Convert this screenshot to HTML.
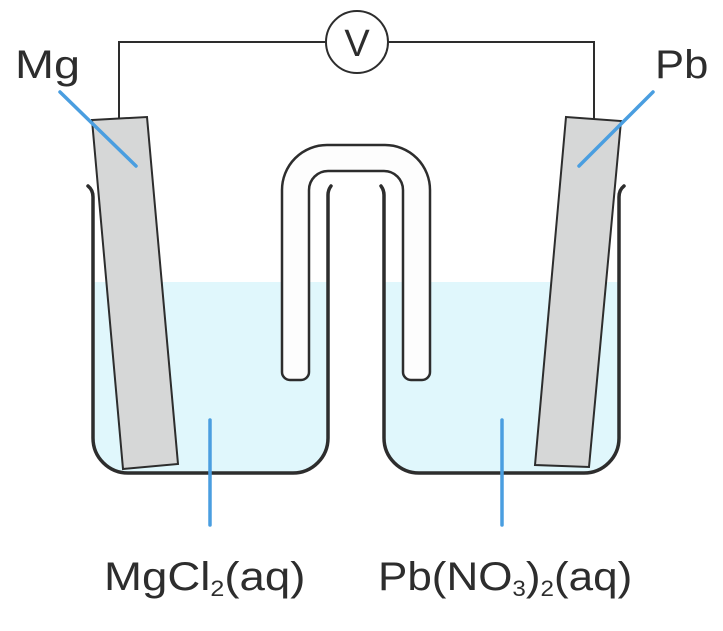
<!DOCTYPE html>
<html><head><style>body{margin:0;background:#fff}svg{display:block}</style></head><body>
<svg width="723" height="631" viewBox="0 0 723 631" xmlns="http://www.w3.org/2000/svg" font-family="Liberation Sans, sans-serif">
<rect width="723" height="631" fill="#fff"/>
<path d="M93,282 H328 V438 a35,35 0 0 1 -35,35 H128 a35,35 0 0 1 -35,-35 Z" fill="#e0f7fc"/>
<path d="M384,282 H619 V438 a35,35 0 0 1 -35,35 H419 a35,35 0 0 1 -35,-35 Z" fill="#e0f7fc"/>
<g fill="none" stroke="#2d2d2d" stroke-width="3.5" stroke-linecap="round">
<path d="M88,186 Q93,190 93,197 V438 a35,35 0 0 0 35,35 H293 a35,35 0 0 0 35,-35 V195 Q328,190 331,186"/>
<path d="M381,186 Q384,190 384,195 V438 a35,35 0 0 0 35,35 H584 a35,35 0 0 0 35,-35 V197 Q619,190 624,186"/>
</g>
<path d="M282,372 V190 a45,45 0 0 1 45,-45 H385 a45,45 0 0 1 45,45 V372 a8,8 0 0 1 -8,8 H411 a8,8 0 0 1 -8,-8 V190 a19,19 0 0 0 -19,-19 H328 a19,19 0 0 0 -19,19 V372 a8,8 0 0 1 -8,8 H290 a8,8 0 0 1 -8,-8 Z" fill="#fdfdfd" stroke="#2d2d2d" stroke-width="2.5"/>
<path d="M119,119 V42 H326 M388,42 H594 V119" fill="none" stroke="#2d2d2d" stroke-width="2"/>
<circle cx="357" cy="42" r="31" fill="#fff" stroke="#2d2d2d" stroke-width="2"/>
<text x="357" y="56" font-size="38" text-anchor="middle" fill="#2d2d2d">V</text>
<polygon points="92,120 147,117 178,464 123,469" fill="#d6d7d7" stroke="#2d2d2d" stroke-width="2"/>
<polygon points="566,117 621,121 589,467 535,465" fill="#d6d7d7" stroke="#2d2d2d" stroke-width="2"/>
<g stroke="#4a9ee0" stroke-width="3.5" stroke-linecap="round">
<line x1="60" y1="92" x2="136" y2="166"/>
<line x1="653" y1="92" x2="579" y2="166"/>
<line x1="210" y1="420" x2="210" y2="525"/>
<line x1="502" y1="420" x2="502" y2="525"/>
</g>
<g fill="#2d2d2d" font-size="40">
<text transform="translate(15,78) scale(1.17,1)">Mg</text>
<text transform="translate(655,78) scale(1.09,1)">Pb</text>
<text transform="translate(104,590) scale(1.14,1)">MgCl<tspan font-size="22" dy="6">2</tspan><tspan dy="-6">(aq)</tspan></text>
<text transform="translate(378,590) scale(1.10,1)">Pb(NO<tspan font-size="22" dy="6">3</tspan><tspan dy="-6">)</tspan><tspan font-size="22" dy="6">2</tspan><tspan dy="-6">(aq)</tspan></text>
</g>
</svg>
</body></html>
